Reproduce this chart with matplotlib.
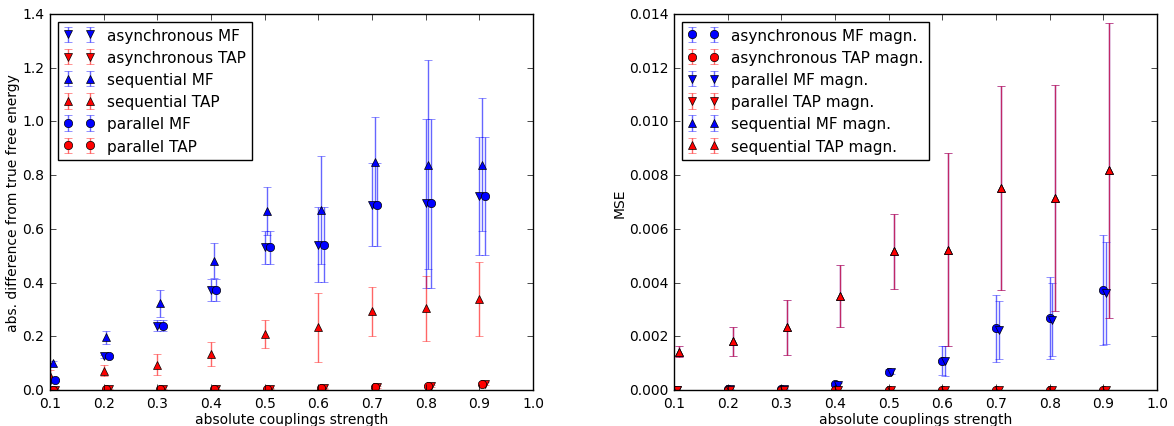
import numpy as np
import matplotlib
matplotlib.use('Agg')
import matplotlib.pyplot as plt

plt.style.use('classic')
plt.rcParams['font.size'] = 10
plt.rcParams['legend.fontsize'] = 11
plt.rcParams['legend.labelspacing'] = 0.47

# coupling strengths
J = np.array([0.1, 0.2, 0.3, 0.4, 0.5, 0.6, 0.7, 0.8, 0.9])

# --- left: abs. difference from true free energy
async_mf = [0.035, 0.125, 0.239, 0.373, 0.531, 0.541, 0.690, 0.695, 0.721]
async_mf_err = [0.004, 0.005, 0.02, 0.04, 0.06, 0.14, 0.154, 0.315, 0.22]
async_tap = [0.001, 0.002, 0.002, 0.003, 0.005, 0.007, 0.012, 0.014, 0.024]
async_tap_err = [0.001, 0.001, 0.001, 0.001, 0.002, 0.002, 0.003, 0.004, 0.005]
seq_mf = [0.099, 0.196, 0.323, 0.481, 0.667, 0.671, 0.848, 0.839, 0.839]
seq_mf_err = [0.008, 0.024, 0.05, 0.065, 0.09, 0.2, 0.167, 0.39, 0.248]
seq_tap = [0.053, 0.072, 0.094, 0.134, 0.208, 0.233, 0.293, 0.304, 0.339]
seq_tap_err = [0.02, 0.021, 0.04, 0.043, 0.052, 0.128, 0.092, 0.12, 0.137]
par_mf = [0.038, 0.125, 0.239, 0.373, 0.531, 0.541, 0.690, 0.695, 0.721]
par_mf_err = [0.004, 0.005, 0.02, 0.04, 0.06, 0.14, 0.154, 0.315, 0.22]
par_tap = [0.001, 0.002, 0.002, 0.003, 0.005, 0.007, 0.012, 0.014, 0.024]
par_tap_err = [0.001, 0.001, 0.001, 0.001, 0.002, 0.002, 0.003, 0.004, 0.005]

# --- right: MSE of magnetizations
m_async_mf = [0.00001, 0.00002, 0.00005, 0.00021, 0.00068, 0.00109, 0.0023, 0.00267, 0.00372]
m_async_mf_err = [0.000005, 0.00001, 0.00002, 0.00005, 0.0001, 0.00055, 0.00124, 0.00153, 0.00205]
m_async_tap = [0.000001, 0.000001, 0.000001, 0.000002, 0.000002, 0.000003, 0.000003, 0.000004, 0.000004]
m_async_tap_err = [0.000001, 0.000001, 0.000001, 0.000001, 0.000001, 0.000002, 0.000002, 0.000002, 0.000002]
m_par_mf = [0.00001, 0.00002, 0.00005, 0.0002, 0.00068, 0.00108, 0.00223, 0.00262, 0.0036]
m_par_mf_err = [0.000005, 0.00001, 0.00002, 0.00005, 0.0001, 0.00055, 0.00108, 0.00136, 0.0019]
m_par_tap = [0.000001, 0.000001, 0.000001, 0.000002, 0.000002, 0.000003, 0.000003, 0.000004, 0.000004]
m_par_tap_err = [0.000001, 0.000001, 0.000001, 0.000001, 0.000001, 0.000002, 0.000002, 0.000002, 0.000002]
m_seq_mf = [0.00143, 0.00181, 0.00233, 0.00351, 0.00516, 0.00522, 0.00751, 0.00714, 0.00818]
m_seq_mf_err = [0.0002, 0.00054, 0.00103, 0.00116, 0.0014, 0.0036, 0.0038, 0.0042, 0.0055]
m_seq_tap = [0.00143, 0.00181, 0.00233, 0.00351, 0.00516, 0.00522, 0.00751, 0.00714, 0.00818]
m_seq_tap_err = [0.0002, 0.00054, 0.00103, 0.00116, 0.0014, 0.0036, 0.0038, 0.0042, 0.0055]


def draw(ax, x, y, err, marker, color, label):
    cont = ax.errorbar(x, y, yerr=err, fmt=marker, color=color, mec='k', mew=0.5,
                       ms=6, capsize=3, label=label)
    for c in cont[1]:
        c.set_alpha(0.6)
    for c in cont[2]:
        c.set_alpha(0.6)


fig = plt.figure(figsize=(11.74, 4.27), dpi=100)
fig.patch.set_facecolor('white')
ax1 = fig.add_axes([50 / 1174, 1 - 391 / 427, 483 / 1174, 376 / 427])
ax2 = fig.add_axes([674 / 1174, 1 - 391 / 427, 483 / 1174, 376 / 427])

draw(ax1, J, async_mf, async_mf_err, 'v', 'b', 'asynchronous MF')
draw(ax1, J + 0.01, async_tap, async_tap_err, 'v', 'r', 'asynchronous TAP')
draw(ax1, J + 0.005, seq_mf, seq_mf_err, '^', 'b', 'sequential MF')
draw(ax1, J, seq_tap, seq_tap_err, '^', 'r', 'sequential TAP')
draw(ax1, J + 0.01, par_mf, par_mf_err, 'o', 'b', 'parallel MF')
draw(ax1, J + 0.005, par_tap, par_tap_err, 'o', 'r', 'parallel TAP')
ax1.set_xlim(0.1, 1.0)
ax1.set_ylim(0, 1.4)
ax1.set_xlabel('absolute couplings strength', labelpad=2)
ax1.set_ylabel('abs. difference from true free energy', labelpad=2)
ax1.legend(loc='upper left', numpoints=2)

draw(ax2, J, m_async_mf, m_async_mf_err, 'o', 'b', 'asynchronous MF magn.')
draw(ax2, J, m_async_tap, m_async_tap_err, 'o', 'r', 'asynchronous TAP magn.')
draw(ax2, J + 0.005, m_par_mf, m_par_mf_err, 'v', 'b', 'parallel MF magn.')
draw(ax2, J + 0.005, m_par_tap, m_par_tap_err, 'v', 'r', 'parallel TAP magn.')
draw(ax2, J + 0.01, m_seq_mf, m_seq_mf_err, '^', 'b', 'sequential MF magn.')
draw(ax2, J + 0.01, m_seq_tap, m_seq_tap_err, '^', 'r', 'sequential TAP magn.')
ax2.set_xlim(0.1, 1.0)
ax2.set_ylim(0, 0.014)
ax2.set_xlabel('absolute couplings strength', labelpad=2)
ax2.set_ylabel('MSE', labelpad=2)
ax2.legend(loc='upper left', numpoints=2)

fig.savefig('out.png', dpi=100, facecolor='white')
